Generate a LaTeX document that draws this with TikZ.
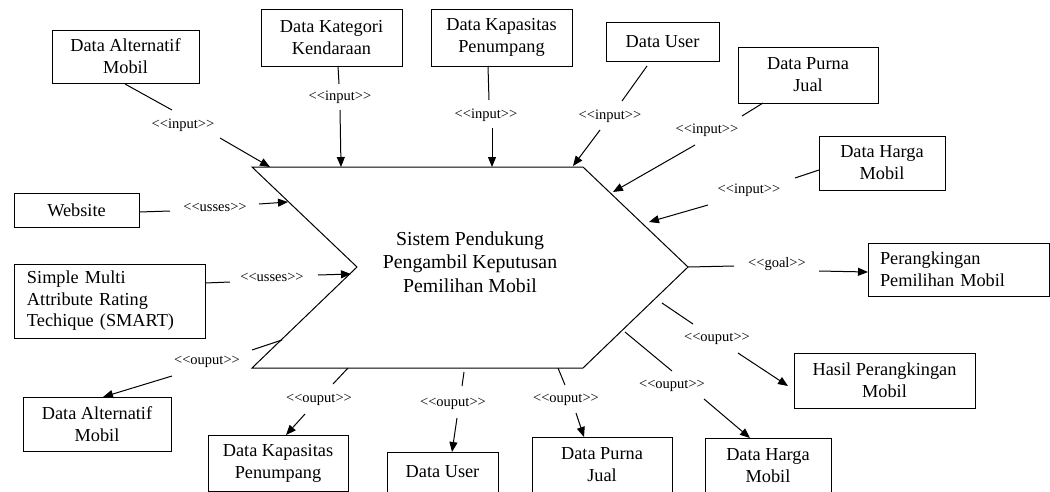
\documentclass[tikz,border=0pt]{standalone}
\usepackage{fontspec}
\setmainfont{Liberation Serif}
\usetikzlibrary{arrows.meta}
% UML stereotype text; the kerns keep << and >> from turning into guillemets
\newcommand\umlst[1]{<\kern0pt<#1>\kern0pt>}
\tikzset{
  box/.style={draw, line width=1pt, fill=white, align=center, inner sep=0pt,
    font=\fontsize{18.3}{22}\selectfont},
  stereo/.style={inner sep=0pt, font=\fontsize{14.5}{16}\selectfont},
  link/.style={line width=1pt},
  flow/.style={line width=1pt, -{Triangle[length=10pt,width=8pt]}},
  system/.style={line width=1pt, fill=white},
}
\begin{document}
\begin{tikzpicture}[x=1pt, y=-1pt]
\useasboundingbox (0,0) rectangle (1050,491);
\fill[white] (0,0) rectangle (1050,491);

% central system
\draw[system] (252,167) -- (583,167) -- (688,267) -- (583,368) -- (252,368) -- (357,267) -- cycle;
\node[font=\fontsize{19.8}{23.5}\selectfont, align=center] (sys) at (470,262)
  {Sistem Pendukung\\Pengambil Keputusan\\Pemilihan Mobil};

% input and resource boxes
\node[box, minimum width=147pt, minimum height=53pt] (altT) at (125.5,56.5) {Data Alternatif\\Mobil};
\node[box, minimum width=141pt, minimum height=57pt] (kat) at (331.5,37.5) {Data Kategori\\Kendaraan};
\node[box, minimum width=141pt, minimum height=57pt] (kapT) at (501.5,37.5) {Data Kapasitas\\Penumpang};
\node[box, minimum width=113pt, minimum height=39pt] (userT) at (662.5,41.5) {Data User};
\node[box, minimum width=140pt, minimum height=56pt] (purnaT) at (808,75) {Data Purna\\Jual};
\node[box, minimum width=126pt, minimum height=54pt] (hargaT) at (882,163) {Data Harga\\Mobil};
\node[box, minimum width=125pt, minimum height=34pt] (web) at (76.5,210) {Website};
\node[box, text width=165pt, inner xsep=13pt, align=left, minimum height=74pt,
  font=\fontsize{18.3}{21.5}\selectfont] (smart) at (109.5,301)
  {Simple Multi\\Attribute Rating\\Techique (SMART)};

% output boxes
\node[box, text width=157pt, inner xsep=12pt, align=left, minimum height=53pt] (rank) at (958.5,269.5)
  {Perangkingan\\Pemilihan Mobil};
\node[box, minimum width=181pt, minimum height=55pt] (hasil) at (884.5,380.5) {Hasil Perangkingan\\Mobil};
\node[box, minimum width=148pt, minimum height=54pt] (altB) at (97,424) {Data Alternatif\\Mobil};
\node[box, minimum width=140pt, minimum height=56pt] (kapB) at (278,463) {Data Kapasitas\\Penumpang};
\node[box, minimum width=111pt, minimum height=40pt] (userB) at (442.5,472) {Data User};
\node[box, minimum width=140pt, minimum height=55pt] (purnaB) at (602,464.5) {Data Purna\\Jual};
\node[box, minimum width=126pt, minimum height=55pt] (hargaB) at (768,465.5) {Data Harga\\Mobil};

% stereotype labels
\node[stereo] (l1) at (183,125) {\umlst{input}};
\node[stereo] (l2) at (340,97) {\umlst{input}};
\node[stereo] (l3) at (486,115) {\umlst{input}};
\node[stereo] (l4) at (610,116) {\umlst{input}};
\node[stereo] (l5) at (707,130) {\umlst{input}};
\node[stereo] (l6) at (749,190) {\umlst{input}};
\node[stereo] (l7) at (215,207) {\umlst{usses}};
\node[stereo] (l8) at (272,277) {\umlst{usses}};
\node[stereo] (l9) at (207,362) {\umlst{ouput}};
\node[stereo] (l10) at (319,400) {\umlst{ouput}};
\node[stereo] (l11) at (453,404) {\umlst{ouput}};
\node[stereo] (l12) at (566,400) {\umlst{ouput}};
\node[stereo] (l13) at (672,386) {\umlst{ouput}};
\node[stereo] (l14) at (717,339) {\umlst{ouput}};
\node[stereo] (l15) at (777,264) {\umlst{goal}};

% connector end points
\coordinate (a1) at (125,84);  \coordinate (b1) at (172,110); \coordinate (c1) at (220,138); \coordinate (t1) at (270,167);
\coordinate (a2) at (338,66);  \coordinate (b2) at (339,84);  \coordinate (c2) at (340,110); \coordinate (t2) at (341,167);
\coordinate (a3) at (488,66);  \coordinate (b3) at (489,100); \coordinate (c3) at (492,128); \coordinate (t3) at (492,167);
\coordinate (a4) at (647,66);  \coordinate (b4) at (622,101); \coordinate (c4) at (600,130); \coordinate (t4) at (573,166);
\coordinate (a5) at (763,103); \coordinate (b5) at (742,116); \coordinate (c5) at (695,145); \coordinate (t5) at (613,192);
\coordinate (a6) at (819,170); \coordinate (b6) at (795,178); \coordinate (c6) at (708,205); \coordinate (t6) at (649,222);
\coordinate (a7) at (139,212); \coordinate (b7) at (170,211); \coordinate (c7) at (259,204); \coordinate (t7) at (288,202);
\coordinate (a8) at (205,283); \coordinate (b8) at (230,282); \coordinate (c8) at (318,275); \coordinate (t8) at (351,274);
\coordinate (a9) at (282,340); \coordinate (b9) at (252,350); \coordinate (c9) at (172,376); \coordinate (t9) at (103,397);
\coordinate (a10) at (348,368); \coordinate (b10) at (333,384); \coordinate (c10) at (305,414); \coordinate (t10) at (286,435);
\coordinate (a11) at (464,372); \coordinate (b11) at (462,386); \coordinate (c11) at (457,418); \coordinate (t11) at (452,452);
\coordinate (a12) at (558,368); \coordinate (b12) at (565,385); \coordinate (c12) at (576,413); \coordinate (t12) at (584,437);
\coordinate (a13) at (625,332); \coordinate (b13) at (672,371); \coordinate (c13) at (704,399); \coordinate (t13) at (750,438);
\coordinate (a14) at (662,303); \coordinate (b14) at (693,324); \coordinate (c14) at (738,353); \coordinate (t14) at (788,386);
\coordinate (a15) at (688,267); \coordinate (b15) at (734,266); \coordinate (c15) at (819,271); \coordinate (t15) at (868,272);

% connectors: plain lead-in, stereotype, arrowed lead-out
\foreach \i in {1,...,15} {
  \draw[link] (a\i) -- (b\i);
  \draw[flow] (c\i) -- (t\i);
}
\end{tikzpicture}
\end{document}
